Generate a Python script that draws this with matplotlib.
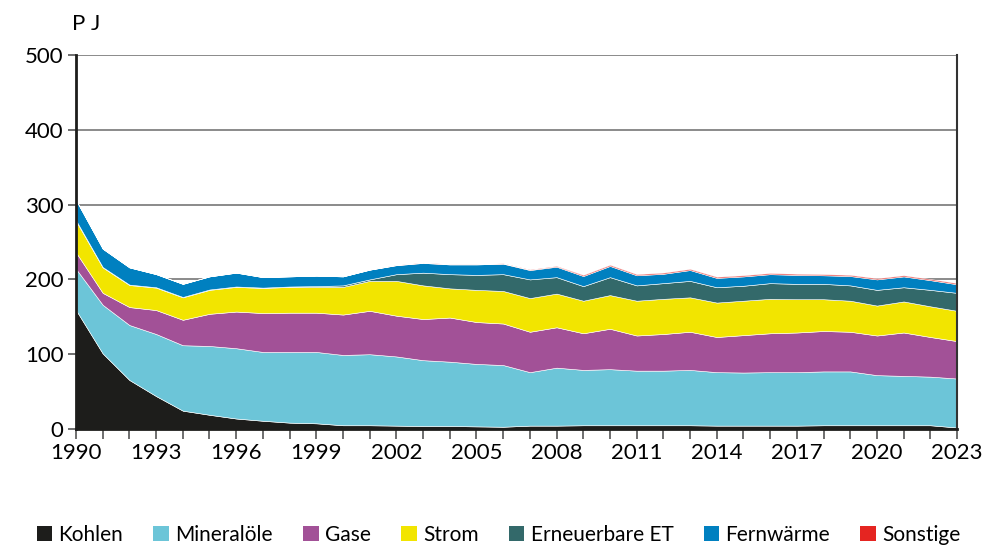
import numpy as np
import matplotlib.pyplot as plt
from matplotlib.patches import Patch

plt.rcParams['font.family'] = ['Lato', 'DejaVu Sans']

years = list(range(1990, 2024))

# Endenergieverbrauch in PJ, nach Energieträgern
kohlen = [159, 101, 65.5, 44, 24.5, 19, 14, 11, 8.5, 7.6, 5, 5, 4.5, 4, 4, 3.5, 3,
          4.5, 4.5, 5, 5, 5, 5, 5, 4.5, 4.5, 4.5, 4.5, 5, 5, 5, 5, 5, 2]
mineraloele = [55, 65, 73.5, 83, 87.5, 92, 94, 92, 94.5, 95.4, 94, 95, 92.5, 88, 86, 83.5, 82.5,
               71.5, 77.5, 74, 75, 73, 73, 74, 71.5, 71, 71.5, 71.5, 72, 72, 67, 66, 65, 65.5]
gase = [22, 16, 24, 32, 34, 43, 49, 52, 52.5, 52.5, 54, 58, 54.5, 55, 59, 56, 55.5,
        54, 54, 49, 54, 47, 49, 51, 47, 50, 52, 53, 54, 53, 53, 58, 53, 50]
strom = [42, 34, 29.5, 30, 30, 32, 33, 33.5, 34.5, 34.5, 37, 40, 46.5, 45, 39, 43, 43.5,
         45, 45, 43.5, 45, 46.5, 47, 46, 46, 46, 46, 44.5, 42.5, 41.5, 40, 41.5, 41, 40.5]
erneuerbare = [1, 0.5, 0.5, 0.5, 0.5, 0.5, 0.5, 0.5, 0.5, 1, 2, 2, 9, 17, 19, 20, 22.5,
               25, 22, 19.5, 24, 20.5, 21, 22, 20.5, 20, 21, 20.5, 20.5, 20.5, 21, 19, 22, 24]
fernwaerme = [27, 24.5, 23, 17.5, 17.5, 17.5, 18.5, 14, 13.5, 14, 12, 13, 12, 13, 13, 14, 14,
              12.5, 14, 13.5, 15, 13.5, 12.5, 14.5, 12.5, 12.5, 12, 12, 11.5, 12.5, 14, 14.5, 13, 11.5]
sonstige = [0, 0, 0, 0, 0, 0, 0, 0, 0, 0, 0, 0, 0.3, 0.5, 0.5, 0.5, 0.5,
            0.8, 1, 1.5, 1.5, 1.5, 1.5, 1.5, 1.5, 1.5, 1.5, 1.5, 1.5, 1.5, 1.5, 1.5, 1.5, 1.5]

labels = ['Kohlen', 'Mineralöle', 'Gase', 'Strom', 'Erneuerbare ET', 'Fernwärme', 'Sonstige']
colors = ['#1d1d1b', '#6cc5d8', '#a25197', '#f2e500', '#33696a', '#0080c0', '#e52521']
series = [kohlen, mineraloele, gase, strom, erneuerbare, fernwaerme, sonstige]

fig = plt.figure(figsize=(9.91, 5.5), dpi=100)
ax = fig.add_axes([0.0767, 0.22, 0.889, 0.68])

ax.stackplot(years, *series, colors=colors, linewidth=0.4, edgecolor='white', zorder=2)

ax.set_xlim(1990, 2023)
ax.set_ylim(0, 500)
ax.set_yticks(range(0, 501, 100))
ax.set_xticks(range(1990, 2024, 3))
ax.set_xticks(years, minor=True)
ax.grid(axis='y', color='#777777', linewidth=1.2, zorder=1)

for side in ['left', 'bottom']:
    ax.spines[side].set_linewidth(2)
    ax.spines[side].set_color('#1d1d1b')
ax.spines['right'].set_linewidth(1.5)
ax.spines['right'].set_color('#333333')
ax.spines['top'].set_visible(False)

ax.tick_params(axis='both', labelsize=16, color='#555555', width=1.2)
ax.tick_params(axis='x', which='both', length=7, pad=3)
ax.tick_params(axis='y', length=6, pad=3)
ax.tick_params(axis='x', which='minor', width=1.2, color='#555555')

fig.text(0.073, 0.975, 'P J', fontsize=16, ha='left', va='top')

handles = [Patch(facecolor=c, edgecolor='none') for c in colors]
fig.legend(handles, labels, loc='lower center', ncol=7, frameon=False, fontsize=15,
           bbox_to_anchor=(0.503, -0.025), handlelength=0.75, handleheight=0.75,
           handletextpad=0.3, columnspacing=1.45)

fig.savefig('out.png', dpi=100)
